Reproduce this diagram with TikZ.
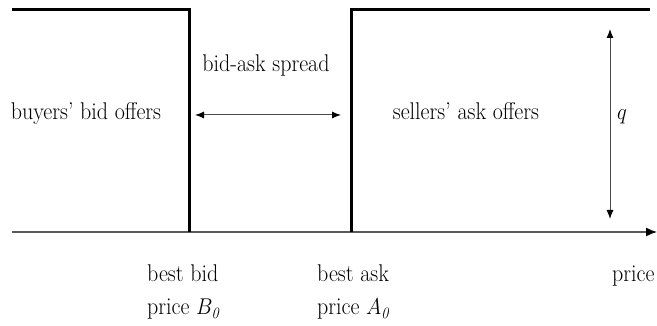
\documentclass[tikz,border=0pt]{standalone}
\usepackage{amsmath}
\usepackage{graphicx}
\usetikzlibrary{arrows.meta}
\newcommand{\tallt}[1]{\scalebox{1}[1.1]{#1}}
\tikzset{step line/.style={line width=3pt},
  lbl/.style={inner sep=0pt},
  dim arrow/.style={{Latex[length=9pt, width=7pt, color=black]}-{Latex[length=9pt, width=7pt, color=black]}, color=black!70, line width=1pt}}
\begin{document}
\begin{tikzpicture}[x=1pt, y=1pt, font=\fontsize{22}{26}\selectfont]
\useasboundingbox (0,0) rectangle (657,326);
% price axis
\coordinate (origin) at (12, 94);
\coordinate (axisend) at (657, 94);
\draw [-{Latex[length=11pt, width=9pt, color=black]}, color=black!65, line width=1.4pt](origin) -- (axisend);
% bid and ask steps
\coordinate (bidleft) at (12, 316);
\coordinate (bidtop) at (189, 316);
\coordinate (bidfoot) at (189, 94);
\coordinate (askfoot) at (351, 94);
\coordinate (asktop) at (351, 316);
\coordinate (askright) at (650, 316);
\draw [step line](bidleft) -- (bidtop) -- (bidfoot);
\draw [step line](askfoot) -- (asktop) -- (askright);
% spread and quantity arrows
\coordinate (spreadl) at (195, 211);
\coordinate (spreadr) at (341, 211);
\draw [dim arrow](spreadl) -- (spreadr);
\coordinate (qtop) at (610, 297);
\coordinate (qbot) at (610, 107);
\draw [dim arrow](qtop) -- (qbot);
% labels
\node [lbl, anchor=base] (buyers) at (86, 206) {\tallt{buyers' bid offers}};
\node [lbl, anchor=base] (sellers) at (466, 206) {\tallt{sellers' ask offers}};
\node [lbl, anchor=base] (spread) at (266, 254) {\tallt{bid-ask spread}};
\node [lbl, anchor=base] (q) at (622, 206) {\tallt{$q$}};
\node [lbl, anchor=base west] (bestbid) at (147, 44) {\tallt{best bid}};
\node [lbl, anchor=base west] (bidprice) at (147, 11) {\tallt{price $B_{\mathit{0}}$}};
\node [lbl, anchor=base west] (bestask) at (317, 44) {\tallt{best ask}};
\node [lbl, anchor=base west] (askprice) at (317, 11) {\tallt{price $A_{\mathit{0}}$}};
\node [lbl, anchor=base west] (price) at (612, 44) {\tallt{price}};
\end{tikzpicture}
\end{document}
